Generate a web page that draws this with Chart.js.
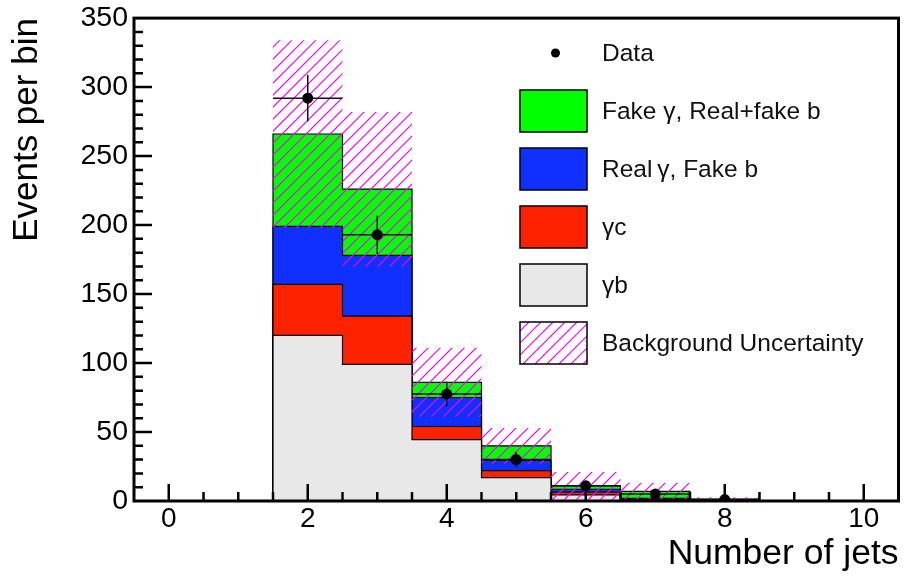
<!DOCTYPE html>
<html>
<head>
<meta charset="utf-8">
<script src="https://cdn.jsdelivr.net/npm/chart.js@4.4.1/dist/chart.umd.min.js"></script>
<style>
  html, body { margin: 0; padding: 0; background: #ffffff; }
  #c { display: block; }
</style>
</head>
<body>
<canvas id="c" width="904" height="578"></canvas>
<script>
// Jet multiplicity bins
const nJets = [0, 1, 2, 3, 4, 5, 6, 7, 8, 9, 10];

// Background components (events per bin)
const gammaB         = [0, 0, 120, 99, 44.5, 17, 4.5, 1, 0.5, 0, 0];
const gammaC         = [0, 0, 37, 35, 9.5, 5, 2, 0.5, 0.2, 0, 0];
const realGammaFakeB = [0, 0, 42, 44, 21, 7.5, 2, 0.5, 0.2, 0, 0];
const fakeGamma      = [0, 0, 67, 48, 11, 10.5, 2.5, 5, 0.4, 0, 0];

// Total background uncertainty (+/-)
const bkgUncertainty = [0, 0, 68, 56, 25, 13, 10, 6, 1.5, 0, 0];

// Observed data and statistical errors
const dataCounts = [0, 0, 292, 193, 77.5, 30, 11, 5, 1, 0, 0];
const dataErrors = [0, 0, 17, 14, 9, 5.5, 3.3, 2.2, 1, 0, 0];

// Axis labels
const xTicks = [0, 2, 4, 6, 8, 10];
const yTicks = [0, 50, 100, 150, 200, 250, 300, 350];

const FONT = "'Liberation Sans', Arial, Helvetica, sans-serif";
const HATCH_COLOR = '#ff00ff';
const HATCH_STEP = 12;

// running sums for the stacked histogram
function cumulative(...layers) {
  return nJets.map((_, i) => layers.reduce((s, l) => s + l[i], 0));
}
const stack1 = cumulative(gammaB);
const stack2 = cumulative(gammaB, gammaC);
const stack3 = cumulative(gammaB, gammaC, realGammaFakeB);
const stack4 = cumulative(gammaB, gammaC, realGammaFakeB, fakeGamma);
const uncUp = stack4.map((v, i) => v + bkgUncertainty[i]);
const uncDown = stack4.map((v, i) => Math.max(0, v - bkgUncertainty[i]));

// histogram outline: one point at each bin's low edge plus the last high edge
function stepPoints(values) {
  const pts = nJets.map((x, i) => ({ x: x - 0.5, y: values[i] }));
  pts.push({ x: nJets[nJets.length - 1] + 0.5, y: values[values.length - 1] });
  return pts;
}

// diagonal hatch lines inside the current clip region
function hatchLines(ctx, left, top, right, bottom) {
  ctx.strokeStyle = HATCH_COLOR;
  ctx.lineWidth = 1.1;
  ctx.globalAlpha = 1;
  ctx.globalCompositeOperation = 'source-over';
  ctx.beginPath();
  const h = bottom - top;
  for (let k = left - h; k <= right; k += HATCH_STEP) {
    ctx.moveTo(k, bottom);
    ctx.lineTo(k + h, top);
  }
  ctx.stroke();
}

const COLORS = {
  fake: '#00ff00',
  realFake: '#1030ff',
  gc: '#ff2200',
  gb: '#e8e8e8'
};

function layer(label, values, color, order) {
  return {
    label,
    data: stepPoints(values),
    stepped: 'before',
    borderColor: '#000',
    borderWidth: 1.2,
    backgroundColor: color,
    fill: 'origin',
    pointRadius: 0,
    order
  };
}

const datasets = [
  {
    label: 'Data',
    data: nJets.filter((_, i) => dataCounts[i] > 0).map(x => ({ x, y: dataCounts[nJets.indexOf(x)] })),
    showLine: false,
    pointRadius: 5.5,
    pointBackgroundColor: '#000',
    pointBorderColor: '#000',
    pointBorderWidth: 0,
    order: 0
  },
  {
    // envelope edges; the hatched band between them is painted by the uncertaintyBand plugin
    label: 'Background Uncertainty',
    data: stepPoints(uncUp),
    stepped: 'before',
    borderWidth: 0,
    borderColor: 'rgba(0,0,0,0)',
    fill: false,
    pointRadius: 0,
    order: 1
  },
  {
    label: 'Background Uncertainty (low)',
    data: stepPoints(uncDown),
    stepped: 'before',
    borderWidth: 0,
    borderColor: 'rgba(0,0,0,0)',
    fill: false,
    pointRadius: 0,
    order: 1
  },
  layer('\u03b3b', stack1, COLORS.gb, 2),
  layer('\u03b3c', stack2, COLORS.gc, 3),
  layer('Real\u2009\u03b3, Fake b', stack3, COLORS.realFake, 4),
  layer('Fake \u03b3, Real+fake b', stack4, COLORS.fake, 5)
];

// hatched uncertainty band over the stack
const uncertaintyBand = {
  id: 'uncertaintyBand',
  afterDatasetDraw(chart, args) {
    if (args.index !== 1) return;
    const { ctx, chartArea: a, scales: { x, y } } = chart;
    ctx.save();
    ctx.beginPath();
    nJets.forEach((n, i) => {
      if (!(uncUp[i] > uncDown[i])) return;
      const x0 = x.getPixelForValue(n - 0.5);
      const x1 = x.getPixelForValue(n + 0.5);
      const y0 = y.getPixelForValue(uncUp[i]);
      const y1 = y.getPixelForValue(uncDown[i]);
      ctx.rect(x0, y0, x1 - x0, y1 - y0);
    });
    ctx.clip();
    hatchLines(ctx, a.left, a.top, a.right, a.bottom);
    ctx.restore();
  }
};

// error bars beneath the data markers
const errorBars = {
  id: 'errorBars',
  beforeDatasetDraw(chart, args) {
    if (args.index !== 0) return;
    const { ctx, scales: { x, y } } = chart;
    ctx.save();
    ctx.strokeStyle = '#111';
    ctx.lineWidth = 1.5;
    nJets.forEach((n, i) => {
      if (!(dataCounts[i] > 0)) return;
      const py = y.getPixelForValue(dataCounts[i]);
      ctx.beginPath();
      ctx.moveTo(x.getPixelForValue(n - 0.5), py);
      ctx.lineTo(x.getPixelForValue(n + 0.5), py);
      ctx.moveTo(x.getPixelForValue(n), y.getPixelForValue(Math.max(0, dataCounts[i] - dataErrors[i])));
      ctx.lineTo(x.getPixelForValue(n), y.getPixelForValue(dataCounts[i] + dataErrors[i]));
      ctx.stroke();
    });
    ctx.restore();
  }
};

// frame with inward tick marks
const frame = {
  id: 'frame',
  afterDraw(chart) {
    const { ctx, chartArea: a, scales: { x, y } } = chart;
    ctx.save();
    ctx.strokeStyle = '#000';
    ctx.lineWidth = 2.5;
    ctx.beginPath();
    for (let v = 0; v <= 10; v += 0.5) {
      const px = x.getPixelForValue(v);
      const len = v % 2 === 0 ? 17 : 9;
      ctx.moveTo(px, a.bottom);
      ctx.lineTo(px, a.bottom - len);
    }
    for (let v = 10; v < 350; v += 10) {
      const py = y.getPixelForValue(v);
      const len = v % 50 === 0 ? 18 : 9;
      ctx.moveTo(a.left, py);
      ctx.lineTo(a.left + len, py);
    }
    ctx.stroke();
    ctx.lineWidth = 3;
    ctx.strokeRect(a.left, a.top, a.right - a.left, a.bottom - a.top);
    ctx.restore();
  }
};

// legend panel
const legendPanel = {
  id: 'legendPanel',
  afterDraw(chart) {
    const { ctx } = chart;
    const ds = chart.data.datasets;
    const boxX = 520, boxW = 67, boxH = 42, textX = 602;
    const rows = [
      { y: 53, kind: 'marker', label: ds[0].label },
      { y: 111, kind: 'box', fill: ds[6].backgroundColor, label: ds[6].label },
      { y: 169, kind: 'box', fill: ds[5].backgroundColor, label: ds[5].label },
      { y: 227, kind: 'box', fill: ds[4].backgroundColor, label: ds[4].label },
      { y: 285, kind: 'box', fill: ds[3].backgroundColor, label: ds[3].label },
      { y: 343, kind: 'hatch', label: ds[1].label }
    ];
    ctx.save();
    ctx.font = '24.5px ' + FONT;
    ctx.textBaseline = 'middle';
    ctx.textAlign = 'left';
    rows.forEach(r => {
      const top = r.y - boxH / 2;
      if (r.kind === 'marker') {
        ctx.fillStyle = '#000';
        ctx.beginPath();
        ctx.arc(boxX + boxW / 2 + 2, r.y, 4.5, 0, Math.PI * 2);
        ctx.fill();
      } else {
        ctx.fillStyle = '#fff';
        ctx.fillRect(boxX, top, boxW, boxH);
        if (r.kind === 'hatch') {
          ctx.save();
          ctx.beginPath();
          ctx.rect(boxX, top, boxW, boxH);
          ctx.clip();
          hatchLines(ctx, boxX - 3, top, boxX + boxW, top + boxH);
          ctx.restore();
        } else {
          ctx.fillStyle = r.fill;
          ctx.fillRect(boxX, top, boxW, boxH);
        }
        ctx.strokeStyle = '#000';
        ctx.lineWidth = 1.5;
        ctx.strokeRect(boxX, top, boxW, boxH);
      }
      ctx.fillStyle = '#111';
      ctx.fillText(r.label, textX, r.y + 1);
    });
    ctx.restore();
  }
};

new Chart(document.getElementById('c'), {
  type: 'line',
  data: { datasets },
  options: {
    responsive: false,
    animation: false,
    devicePixelRatio: 1,
    layout: { padding: { top: 13, right: 3, left: 0, bottom: 0 } },
    plugins: {
      legend: { display: false },
      tooltip: { enabled: false },
      title: { display: false }
    },
    scales: {
      x: {
        type: 'linear',
        min: -0.5,
        max: 10.5,
        grid: { display: false, drawTicks: false },
        border: { display: false },
        afterBuildTicks: s => { s.ticks = xTicks.map(v => ({ value: v })); },
        afterFit: s => { s.height = 77; },
        ticks: {
          color: '#000',
          padding: 6,
          maxRotation: 0,
          font: { family: FONT, size: 28, lineHeight: 0.9 },
          callback: v => String(v)
        },
        title: {
          display: true,
          text: 'Number of jets',
          align: 'end',
          color: '#000',
          font: { family: FONT, size: 35.5 },
          padding: { top: 0, bottom: 2 }
        }
      },
      y: {
        type: 'linear',
        min: 0,
        max: 350,
        grid: { display: false, drawTicks: false },
        border: { display: false },
        afterBuildTicks: s => { s.ticks = yTicks.map(v => ({ value: v })); },
        afterFit: s => { s.width = 134; },
        ticks: {
          color: '#000',
          padding: 6,
          font: { family: FONT, size: 28.5, lineHeight: 0.85 },
          callback: v => String(v)
        },
        title: {
          display: true,
          text: 'Events per bin',
          align: 'end',
          color: '#000',
          font: { family: FONT, size: 35 },
          padding: { top: 6, bottom: 0 }
        }
      }
    }
  },
  plugins: [uncertaintyBand, errorBars, frame, legendPanel]
});
</script>
</body>
</html>
